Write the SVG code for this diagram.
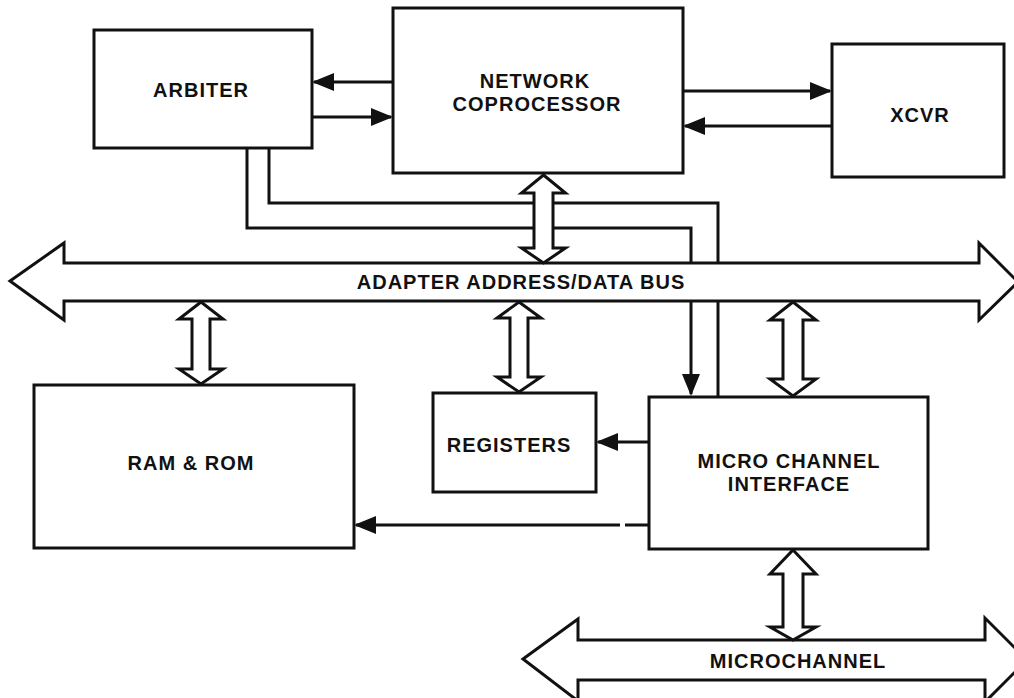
<svg xmlns="http://www.w3.org/2000/svg" width="1014" height="698" viewBox="0 0 1014 698">
<style>
.box{fill:#fff;stroke:#111;stroke-width:3}
.lbl{font-family:"Liberation Sans",Arial,Helvetica,sans-serif;font-weight:bold;font-size:20px;letter-spacing:1px;fill:#111;text-anchor:middle}
.ln{fill:none;stroke:#111;stroke-width:3}
.dbl{fill:#fff;stroke:#111;stroke-width:3;stroke-linejoin:miter}
.bus{fill:#fff;stroke:#111;stroke-width:3;stroke-linejoin:miter}
</style>
<defs>
<marker id="ah" markerUnits="userSpaceOnUse" markerWidth="22" markerHeight="18" refX="20" refY="9" orient="auto">
<path d="M0,0 L22,9 L0,18 z" fill="#111"/>
</marker>
</defs>
<rect width="1014" height="698" fill="#fff"/>

<g id="arbiter">
<rect class="box" x="94" y="30" width="218" height="118"/>
<text class="lbl" x="201" y="97">ARBITER</text>
</g>
<g id="network-coprocessor">
<rect class="box" x="393" y="8" width="290" height="165"/>
<text class="lbl" x="535" y="88">NETWORK</text>
<text class="lbl" x="537" y="111">COPROCESSOR</text>
</g>
<g id="xcvr">
<rect class="box" x="832" y="44" width="172" height="133"/>
<text class="lbl" x="920" y="122">XCVR</text>
</g>
<g id="adapter-bus">
<path class="bus" d="M10,281 L64,243 L64,263 L979,263 L979,243 L1018,282 L979,320 L979,301 L64,301 L64,320 Z"/>
<text class="lbl" x="521" y="289">ADAPTER ADDRESS/DATA BUS</text>
</g>
<g id="ram-rom">
<rect class="box" x="34" y="385" width="320" height="163"/>
<text class="lbl" x="191" y="470">RAM &amp; ROM</text>
</g>
<g id="registers">
<rect class="box" x="433" y="393" width="163" height="99"/>
<text class="lbl" x="509" y="452">REGISTERS</text>
</g>
<g id="micro-channel-interface">
<rect class="box" x="649" y="397" width="279" height="152"/>
<text class="lbl" x="789" y="468">MICRO CHANNEL</text>
<text class="lbl" x="789" y="491">INTERFACE</text>
</g>
<g id="microchannel">
<path class="bus" d="M523,659 L578,619 L578,640 L985,640 L985,618 L1027,660 L985,702 L985,680 L578,680 L578,701 Z"/>
<text class="lbl" x="798" y="668">MICROCHANNEL</text>
</g>

<g id="connectors">
<line class="ln" x1="393" y1="82" x2="314" y2="82" marker-end="url(#ah)"/>
<line class="ln" x1="312" y1="117" x2="391" y2="117" marker-end="url(#ah)"/>
<line class="ln" x1="683" y1="91" x2="830" y2="91" marker-end="url(#ah)"/>
<line class="ln" x1="832" y1="126" x2="685" y2="126" marker-end="url(#ah)"/>
<path class="ln" d="M247,148 L247,228 L691,228 L691,263"/>
<path class="ln" d="M269,148 L269,203 L718,203 L718,263"/>
<line class="ln" x1="691" y1="301" x2="691" y2="394" marker-end="url(#ah)"/>
<line class="ln" x1="718" y1="301" x2="718" y2="397"/>
<line class="ln" x1="649" y1="442" x2="598" y2="442" marker-end="url(#ah)"/>
<path class="ln" d="M649,525 L625,525 M620,525 L356,525" marker-end="url(#ah)"/>
<path class="dbl" d="M543.5,175 L565.5,193 L553,193 L553,248 L565.5,248 L543.5,263 L521.5,248 L534,248 L534,193 L521.5,193 Z"/>
<path class="dbl" d="M201,302 L223,319 L210,319 L210,369 L223,369 L201,384 L179,369 L192,369 L192,319 L179,319 Z"/>
<path class="dbl" d="M519,302 L541,318 L528,318 L528,377 L541,377 L519,392 L497,377 L510,377 L510,318 L497,318 Z"/>
<path class="dbl" d="M793,302 L816,320 L803,320 L803,379 L816,379 L793,396 L770,379 L783,379 L783,320 L770,320 Z"/>
<path class="dbl" d="M793,550 L816,574 L803,574 L803,627 L816,627 L793,640 L770,627 L783,627 L783,574 L770,574 Z"/>
</g>
</svg>
